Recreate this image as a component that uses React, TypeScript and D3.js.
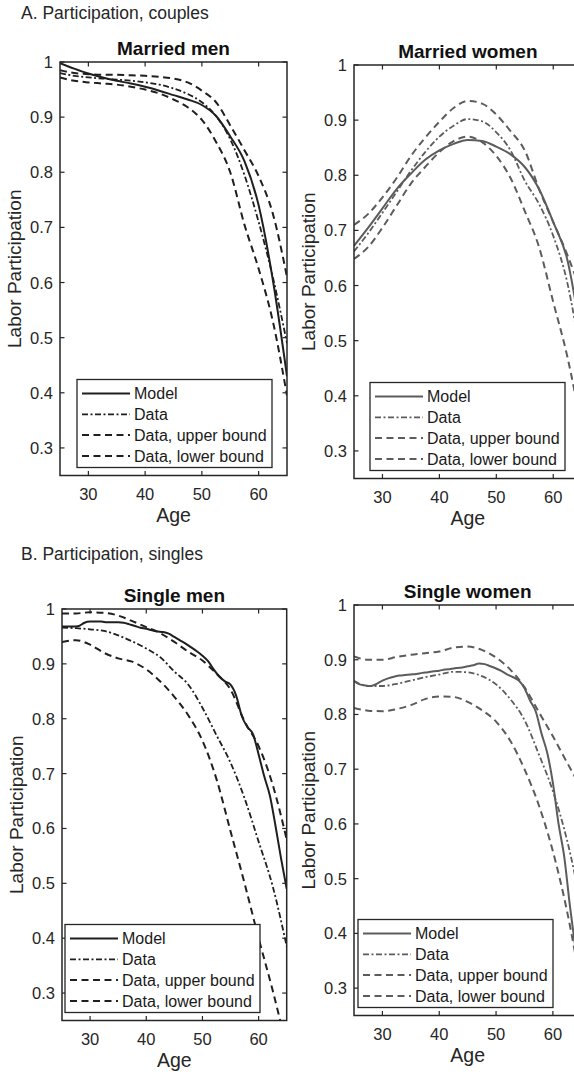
import React from 'react';
import * as d3 from 'd3';

// x categories (age)
const ages = [25, 27.5, 30, 32.5, 35, 37.5, 40, 42.5, 45, 47.5, 50, 52.5, 55, 57.5, 60, 62.5, 65];
const agesYearly = [
  25, 26, 27, 28, 29, 30, 31, 32, 33, 34, 35, 36, 37, 38, 39, 40, 41, 42, 43, 44, 45,
  46, 47, 48, 49, 50, 51, 52, 53, 54, 55, 56, 57, 58, 59, 60, 61, 62, 63, 64, 65,
];

// Married men
const mmModel = [0.998, 0.988, 0.979, 0.972, 0.966, 0.961, 0.955, 0.948, 0.94, 0.932, 0.922, 0.902, 0.865, 0.82, 0.74, 0.605, 0.43];
const mmData = [0.98, 0.975, 0.972, 0.97, 0.968, 0.966, 0.963, 0.959, 0.952, 0.942, 0.927, 0.902, 0.86, 0.795, 0.71, 0.61, 0.49];
const mmUpper = [0.985, 0.98, 0.978, 0.977, 0.977, 0.976, 0.975, 0.973, 0.97, 0.963, 0.948, 0.927, 0.885, 0.84, 0.793, 0.725, 0.61];
const mmLower = [0.972, 0.966, 0.963, 0.961, 0.959, 0.955, 0.95, 0.943, 0.932, 0.918, 0.895, 0.855, 0.8, 0.705, 0.625, 0.53, 0.395];

// Married women
const mwModel = [0.672, 0.705, 0.74, 0.775, 0.803, 0.828, 0.845, 0.857, 0.864, 0.862, 0.852, 0.838, 0.815, 0.775, 0.715, 0.646, 0.5];
const mwData = [0.662, 0.695, 0.732, 0.77, 0.808, 0.842, 0.87, 0.89, 0.902, 0.898, 0.878, 0.845, 0.79, 0.748, 0.69, 0.604, 0.46];
const mwUpper = [0.71, 0.73, 0.76, 0.795, 0.835, 0.868, 0.897, 0.922, 0.935, 0.93, 0.91, 0.88, 0.845, 0.775, 0.715, 0.655, 0.585];
const mwLower = [0.648, 0.67, 0.705, 0.745, 0.785, 0.815, 0.842, 0.862, 0.87, 0.86, 0.835, 0.795, 0.735, 0.67, 0.57, 0.47, 0.34];

// Single men
const smModel = [
  0.968, 0.968, 0.968, 0.969, 0.975, 0.977, 0.977, 0.977, 0.976, 0.976, 0.976, 0.975, 0.972, 0.969,
  0.966, 0.964, 0.961, 0.959, 0.958, 0.955, 0.949, 0.943, 0.937, 0.93, 0.923, 0.915, 0.905, 0.89,
  0.877, 0.868, 0.862, 0.842, 0.805, 0.785, 0.772, 0.735, 0.695, 0.66, 0.605, 0.545, 0.49,
];
const smData = [0.966, 0.965, 0.963, 0.96, 0.952, 0.941, 0.928, 0.912, 0.886, 0.862, 0.82, 0.77, 0.72, 0.655, 0.576, 0.495, 0.385];
const smUpper = [0.992, 0.992, 0.994, 0.993, 0.988, 0.978, 0.967, 0.956, 0.94, 0.922, 0.906, 0.882, 0.853, 0.795, 0.75, 0.68, 0.58];
const smLower = [0.94, 0.943, 0.935, 0.92, 0.91, 0.904, 0.89, 0.868, 0.84, 0.806, 0.76, 0.69, 0.595, 0.5, 0.4, 0.305, 0.2];

// Single women
const swModel = [
  0.861, 0.855, 0.853, 0.852, 0.856, 0.862, 0.866, 0.869, 0.871, 0.872, 0.873, 0.874, 0.876, 0.877,
  0.879, 0.88, 0.882, 0.883, 0.885, 0.886, 0.888, 0.89, 0.893, 0.892, 0.888, 0.884, 0.879, 0.873,
  0.868, 0.862, 0.848, 0.825, 0.805, 0.765, 0.73, 0.675, 0.6, 0.54, 0.45, 0.37, 0.3,
];
const swData = [0.861, 0.852, 0.852, 0.856, 0.862, 0.868, 0.873, 0.878, 0.877, 0.87, 0.855, 0.828, 0.79, 0.728, 0.66, 0.57, 0.45];
const swUpper = [0.906, 0.9, 0.9, 0.905, 0.909, 0.912, 0.915, 0.922, 0.924, 0.918, 0.904, 0.882, 0.85, 0.805, 0.76, 0.712, 0.665];
const swLower = [0.812, 0.807, 0.806, 0.81, 0.817, 0.828, 0.833, 0.832, 0.823, 0.808, 0.787, 0.752, 0.7, 0.635, 0.55, 0.44, 0.3];

const xTicks = [30, 40, 50, 60];
const yTicks = [0.3, 0.4, 0.5, 0.6, 0.7, 0.8, 0.9, 1];
const legendLabels = ['Model', 'Data', 'Data, upper bound', 'Data, lower bound'];

const FONT = '"Liberation Sans", Arial, Helvetica, sans-serif';
const AXIS = '#262626';
const DARK = '#1f1f1f';
const GRAY = '#5c5c5c';

const STYLES = {
  solid: { width: 2, dash: null },
  dashdot: { width: 1.8, dash: '6,2.5,2,2.5' },
  dashed: { width: 2, dash: '7,4.5' },
};
const KINDS = ['solid', 'dashdot', 'dashed', 'dashed'];

type Box = { l: number; r: number; t: number; b: number };

function Panel({ id, box, title, color, series, legendDx }: any) {
  const { l, r, t, b } = box as Box;
  const x = d3.scaleLinear().domain([25, 65]).range([l, r]);
  const y = d3.scaleLinear().domain([0.25, 1]).range([b, t]);
  const line = d3
    .line<[number, number]>()
    .x((d) => x(d[0]))
    .y((d) => y(d[1]))
    .curve(d3.curveMonotoneX);

  const lx = l + legendDx;
  const lw = 195;
  const lh = 88;
  const ly = b - 8 - lh;

  return (
    <g>
      <defs>
        <clipPath id={`clip-${id}`}>
          <rect x={l} y={t} width={r - l} height={b - t} />
        </clipPath>
      </defs>

      {/* lines */}
      <g clipPath={`url(#clip-${id})`}>
        {series.map((s: any, i: number) => {
          const st = (STYLES as any)[KINDS[i]];
          const pts = s.ages.map((a: number, j: number) => [a, s.values[j]] as [number, number]);
          return (
            <path
              key={i}
              d={line(pts) || ''}
              fill="none"
              stroke={color}
              strokeWidth={st.width}
              strokeDasharray={st.dash || undefined}
            />
          );
        })}
      </g>

      {/* box + ticks */}
      <rect x={l} y={t} width={r - l} height={b - t} fill="none" stroke={AXIS} strokeWidth={1.5} />
      {xTicks.map((v) => (
        <g key={`x${v}`}>
          <line x1={x(v)} x2={x(v)} y1={b} y2={b - 4.5} stroke={AXIS} strokeWidth={1.2} />
          <line x1={x(v)} x2={x(v)} y1={t} y2={t + 4.5} stroke={AXIS} strokeWidth={1.2} />
          <text x={x(v)} y={b + 24} textAnchor="middle" fontSize={16.5} fill={AXIS}>
            {v}
          </text>
        </g>
      ))}
      {yTicks.map((v) => (
        <g key={`y${v}`}>
          <line x1={l} x2={l + 4.5} y1={y(v)} y2={y(v)} stroke={AXIS} strokeWidth={1.2} />
          <line x1={r} x2={r - 4.5} y1={y(v)} y2={y(v)} stroke={AXIS} strokeWidth={1.2} />
          <text x={l - 7} y={y(v) + 6} textAnchor="end" fontSize={16.5} fill={AXIS}>
            {v === 1 ? '1' : v.toFixed(1)}
          </text>
        </g>
      ))}

      <text x={(l + r) / 2} y={t - 7} textAnchor="middle" fontSize={19} fontWeight="bold" fill="#111">
        {title}
      </text>
      <text x={(l + r) / 2} y={b + 46} textAnchor="middle" fontSize={19.5} fill={AXIS}>
        Age
      </text>
      <text
        transform={`translate(${l - 39},${(t + b) / 2}) rotate(-90)`}
        textAnchor="middle"
        fontSize={19}
        fill={AXIS}
      >
        Labor Participation
      </text>

      {/* legend */}
      <rect x={lx} y={ly} width={lw} height={lh} fill="#fff" stroke={AXIS} strokeWidth={1.3} />
      {legendLabels.map((lab, i) => {
        const st = (STYLES as any)[KINDS[i]];
        const ry = ly + 14 + i * 20.8;
        return (
          <g key={lab}>
            <line
              x1={lx + 5}
              x2={lx + 53}
              y1={ry}
              y2={ry}
              stroke={color}
              strokeWidth={st.width}
              strokeDasharray={st.dash || undefined}
            />
            <text x={lx + 57} y={ry + 5.7} fontSize={16} fill="#1a1a1a">
              {lab}
            </text>
          </g>
        );
      })}
    </g>
  );
}

export default function App() {
  const mk = (a: number[], m: number[], d: number[], u: number[], lo: number[]) => [
    { ages: a, values: m },
    { ages, values: d },
    { ages, values: u },
    { ages, values: lo },
  ];

  return (
    <svg
      width={574}
      height={1075}
      style={{ position: 'absolute', left: 0, top: 0, background: '#fff' }}
      fontFamily={FONT}
    >
      <rect width={574} height={1075} fill="#fff" />
      <text x={21} y={19} fontSize={17.5} fill={AXIS}>
        A. Participation, couples
      </text>
      <text x={21} y={560} fontSize={17.5} fill={AXIS}>
        B. Participation, singles
      </text>

      <Panel
        id="mm"
        box={{ l: 60, r: 287, t: 62, b: 475.5 }}
        title="Married men"
        color={DARK}
        legendDx={17}
        series={mk(ages, mmModel, mmData, mmUpper, mmLower)}
      />
      <Panel
        id="mw"
        box={{ l: 354, r: 581.7, t: 65, b: 478.5 }}
        title="Married women"
        color={GRAY}
        legendDx={16}
        series={mk(ages, mwModel, mwData, mwUpper, mwLower)}
      />
      <Panel
        id="sm"
        box={{ l: 62, r: 286.7, t: 609, b: 1020.5 }}
        title="Single men"
        color={DARK}
        legendDx={3}
        series={mk(agesYearly, smModel, smData, smUpper, smLower)}
      />
      <Panel
        id="sw"
        box={{ l: 354, r: 581.3, t: 605, b: 1015.5 }}
        title="Single women"
        color={GRAY}
        legendDx={4}
        series={mk(agesYearly, swModel, swData, swUpper, swLower)}
      />
    </svg>
  );
}
